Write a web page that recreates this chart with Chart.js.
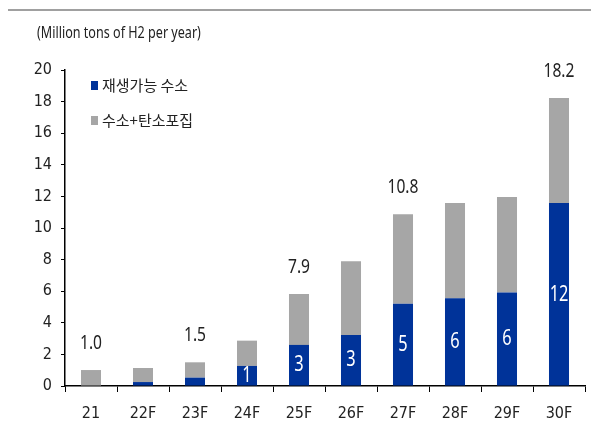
<!DOCTYPE html>
<html><head><meta charset="utf-8">
<script src="https://cdn.jsdelivr.net/npm/chart.js@4/dist/chart.umd.min.js"></script>
<style>html,body{margin:0;padding:0;background:#fff}#wrap{width:591px;height:423px}</style>
</head><body><div id="wrap"><canvas id="c" width="591" height="423"></canvas></div>
<script>
const categories = ['21','22F','23F','24F','25F','26F','27F','28F','29F','30F'];
const renewable = [0.03, 0.25, 0.53, 1.27, 2.6, 3.23, 5.21, 5.55, 5.91, 11.58];
const ccs = [0.98, 0.89, 0.97, 1.6, 3.22, 4.66, 5.66, 6.03, 6.05, 6.65];
const topLabels = ['1.0','','1.5','','7.9','','10.8','','','18.2'];
const innerLabels = ['','','','1','3','3','5','6','6','12'];
const seriesNames = ['재생가능 수소','수소+탄소포집'];
const unitText = '(Million tons of H2 per year)';
const yTicks = [0,2,4,6,8,10,12,14,16,18,20];

const FONT = "'DejaVu Sans Condensed', 'Noto Sans CJK KR', sans-serif";
const NFONT = "'Noto Sans', 'Noto Sans CJK KR', sans-serif";
const KFONT = "'Noto Sans CJK KR', sans-serif";
const BLUE = '#003399', GRAY = '#A6A6A6';

function narrow(ctx, text, x, y, font, sx, align) {
  ctx.save();
  ctx.translate(x, y); ctx.scale(sx, 1);
  ctx.font = font; ctx.textAlign = align; ctx.textBaseline = 'middle';
  ctx.fillText(text, 0, 0);
  ctx.restore();
}

const deco = {
  id: 'deco',
  afterDraw(chart) {
    const ctx = chart.ctx, x = chart.scales.x, y = chart.scales.y;
    ctx.save();
    ctx.strokeStyle = '#A0A0A0'; ctx.lineWidth = 2;
    ctx.beginPath(); ctx.moveTo(8, 10); ctx.lineTo(591, 10); ctx.stroke();
    ctx.fillStyle = '#222';
    narrow(ctx, unitText, 37, 33, '17px ' + NFONT, 0.74, 'left');
    const cols = [BLUE, GRAY];
    ctx.font = '15px ' + KFONT; ctx.textAlign = 'left'; ctx.textBaseline = 'middle';
    [85, 120].forEach((ly, i) => {
      ctx.fillStyle = cols[i]; ctx.fillRect(91, ly - 4, 7, 9);
      ctx.fillStyle = '#222'; ctx.fillText(seriesNames[i], 102, ly);
    });
    ctx.fillStyle = '#222';
    categories.forEach((c, i) => {
      if (!topLabels[i]) return;
      const tot = renewable[i] + ccs[i];
      narrow(ctx, topLabels[i], x.getPixelForValue(i), y.getPixelForValue(tot) - 27, '20px ' + NFONT, 0.78, 'center');
    });
    ctx.fillStyle = '#fff';
    categories.forEach((c, i) => {
      if (!innerLabels[i]) return;
      const yc = (y.getPixelForValue(0) + y.getPixelForValue(renewable[i])) / 2;
      narrow(ctx, innerLabels[i], x.getPixelForValue(i), yc, '21px ' + NFONT, 0.78, 'center');
    });
    ctx.restore();
  }
};

new Chart(document.getElementById('c'), {
  type: 'bar',
  data: {
    labels: categories,
    datasets: [
      { label: seriesNames[0], data: renewable, backgroundColor: BLUE, barPercentage: 0.77, categoryPercentage: 0.5 },
      { label: seriesNames[1], data: ccs, backgroundColor: GRAY, barPercentage: 0.77, categoryPercentage: 0.5 }
    ]
  },
  options: {
    responsive: false, animation: false, devicePixelRatio: 1,
    layout: { padding: { left: 0, right: 6, top: 70, bottom: 0 } },
    plugins: { legend: { display: false }, tooltip: { enabled: false } },
    scales: {
      x: {
        stacked: true,
        grid: { drawOnChartArea: false, color: '#000', tickLength: 6, offset: true },
        border: { color: '#000', width: 1.5 },
        ticks: { color: '#222', font: { family: FONT, size: 16 }, padding: 12 },
        afterFit(s) { s.height = 37; }
      },
      y: {
        stacked: true, min: 0, max: 20,
        afterBuildTicks(s) { s.ticks = yTicks.map(v => ({ value: v })); },
        grid: { drawOnChartArea: false, color: '#000', tickLength: 4 },
        border: { color: '#000', width: 1.5 },
        ticks: { color: '#222', font: { family: FONT, size: 16 }, padding: 9 },
        afterFit(s) { s.width = 65; }
      }
    }
  },
  plugins: [deco]
});
</script></body></html>
